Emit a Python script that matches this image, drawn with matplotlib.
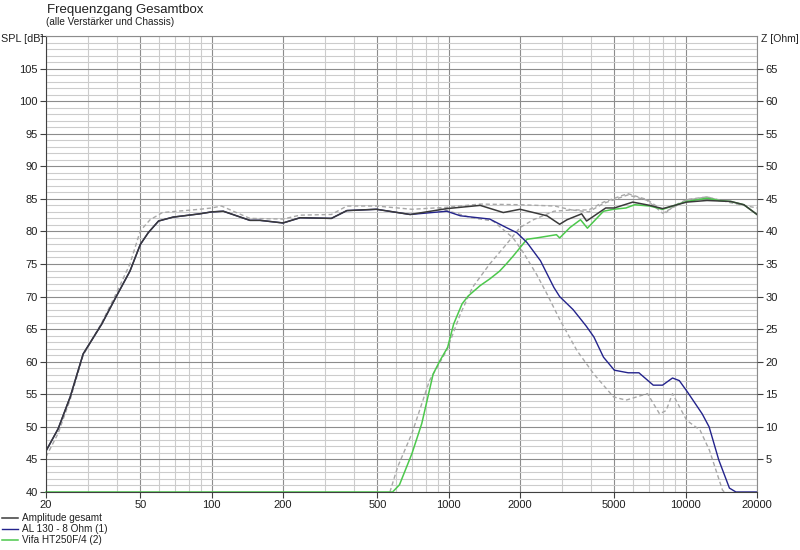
import matplotlib
matplotlib.use("Agg")
import matplotlib.pyplot as plt
from matplotlib.ticker import FixedLocator, NullFormatter, MultipleLocator

plt.rcParams['font.family'] = ['Liberation Sans', 'DejaVu Sans']

# ---- data ----
total_f = [20, 22.5, 25.3, 28.7, 34.4, 39.7, 45.2, 50, 54, 59.7, 68.8, 89, 100, 112, 145, 160,
           200, 236, 320, 372, 496, 688, 982, 1358, 1700, 2000, 2600, 2940, 3160, 3640, 3820,
           4600, 5000, 5980, 7050, 8000, 10100, 12300, 15500, 17600, 20000]
total_db = [46.3, 49.7, 54.6, 61.2, 65.8, 70.1, 73.9, 78.0, 79.8, 81.6, 82.2, 82.7, 83.0, 83.1, 81.7, 81.7,
            81.3, 82.1, 82.0, 83.2, 83.4, 82.6, 83.5, 84.0, 82.9, 83.4, 82.4, 81.1, 81.8, 82.7, 81.6,
            83.6, 83.6, 84.5, 84.0, 83.5, 84.5, 84.75, 84.6, 84.1, 82.6]

woofer_f = [20, 22.5, 25.3, 28.7, 34.4, 39.7, 45.2, 50, 54, 59.7, 68.8, 89, 100, 112, 145, 160,
            200, 236, 320, 372, 496, 688, 982, 1120, 1490, 1750, 1940, 2140, 2440, 2780, 2940,
            3350, 3800, 4100, 4500, 5000, 5720, 6350, 7300, 7990, 8800, 9400, 10200, 11740,
            12560, 13800, 15300, 16300, 20000]
woofer_db = [46.3, 49.7, 54.6, 61.2, 65.8, 70.1, 73.9, 78.0, 79.8, 81.6, 82.2, 82.7, 83.0, 83.1, 81.7, 81.7,
             81.3, 82.1, 82.0, 83.2, 83.4, 82.6, 83.1, 82.4, 81.9, 80.6, 79.8, 78.3, 75.5, 71.4, 70.0,
             68.0, 65.5, 63.8, 60.7, 58.7, 58.3, 58.3, 56.4, 56.4, 57.5, 57.1, 55.3, 52.0,
             50.0, 44.9, 40.6, 40.0, 40.0]

tweeter_f = [20, 580, 620, 700, 770, 860, 920, 990, 1050, 1140, 1210, 1360, 1490, 1640, 1750,
             1870, 2000, 2140, 2350, 2850, 2940, 3250, 3600, 3850, 4500, 4960, 5600, 6100, 7050,
             8000, 10100, 12300, 13800, 15500, 17600, 20000]
tweeter_db = [40, 40, 41.1, 45.9, 50.5, 58.1, 60.2, 62.2, 65.8, 68.9, 70.1, 71.7, 72.7, 73.9, 75.0,
              76.2, 77.5, 78.8, 79.0, 79.5, 79.0, 80.6, 81.8, 80.5, 83.1, 83.4, 83.6, 84.1, 83.9,
              83.4, 84.6, 85.1, 84.75, 84.6, 84.1, 82.6]

target_total_f = [20, 22.5, 25.3, 28.7, 34.4, 39.7, 45.2, 50, 55, 62, 89, 100, 110, 145, 200, 236,
                  320, 372, 496, 700, 980, 1358, 2000, 2800, 3300, 3900, 4500, 5290, 5700, 6850,
                  8270, 9000, 10100, 12300, 15500, 20000]
target_total_db = [45.4, 49.0, 54.2, 61.0, 66.0, 70.6, 75.0, 80.1, 81.8, 82.9, 83.4, 83.6, 83.9, 82.0, 81.9, 82.5,
                   82.6, 83.9, 83.9, 83.4, 83.7, 84.2, 84.1, 83.9, 83.3, 83.3, 84.5, 85.4, 85.8, 84.9,
                   82.9, 84.0, 84.9, 85.3, 84.4, 83.6]

target_woofer_f = [900, 1250, 1540, 1870, 2070, 2350, 2600, 2940, 3480, 4100, 4960, 5600, 6900,
                   7760, 8270, 8800, 10100, 11500, 12600, 14300, 15000]
target_woofer_db = [83.6, 82.1, 81.6, 79.0, 76.7, 73.4, 70.4, 66.5, 61.7, 58.1, 54.6, 54.1, 55.1,
                    52.0, 52.5, 55.1, 51.0, 49.5, 46.4, 40.3, 39.5]

target_tweeter_f = [565, 610, 700, 830, 980, 1120, 1260, 1490, 1750, 2000, 2280, 2780, 3300, 3900,
                    4500, 5700, 6850, 8000, 10100, 12300, 13800]
target_tweeter_db = [40.0, 43.9, 49.0, 57.1, 61.7, 67.3, 71.4, 75.0, 78.0, 80.6, 81.8, 83.1, 83.3, 83.0,
                     84.3, 85.6, 84.8, 82.8, 84.8, 85.3, 84.8]

x_ticks = [20, 50, 100, 200, 500, 1000, 2000, 5000, 10000, 20000]
x_tick_labels = ['20', '50', '100', '200', '500', '1000', '2000', '5000', '10000', '20000']
spl_ticks = [40, 45, 50, 55, 60, 65, 70, 75, 80, 85, 90, 95, 100, 105]
z_ticks = [5, 10, 15, 20, 25, 30, 35, 40, 45, 50, 55, 60, 65]

labels = ['Amplitude gesamt', 'AL 130 - 8 Ohm (1)', 'Vifa HT250F/4 (2)']

# ---- figure ----
fig = plt.figure(figsize=(8, 5.5), dpi=100)
ax = fig.add_axes([46/800, 1-492/550, (757-46)/800, (492-36)/550])

ax.set_xscale('log')
ax.set_xlim(20, 20000)
ax.set_ylim(40, 110)

minor_x = []
for dec in [10, 100, 1000, 10000]:
    for m in range(1, 10):
        v = dec * m
        if 20 <= v <= 20000 and v not in x_ticks:
            minor_x.append(v)
ax.xaxis.set_major_locator(FixedLocator(x_ticks))
ax.set_xticklabels(x_tick_labels)
ax.xaxis.set_minor_locator(FixedLocator(minor_x))
ax.xaxis.set_minor_formatter(NullFormatter())
ax.yaxis.set_major_locator(FixedLocator(spl_ticks + [110]))
ax.set_yticklabels([str(t) for t in spl_ticks] + [''])
ax.yaxis.set_minor_locator(MultipleLocator(1))

ax.grid(True, which='minor', color='#cccccc', lw=0.8)
ax.grid(True, which='major', color='#8c8c8c', lw=0.8)
ax.set_axisbelow(True)
ax.tick_params(which='minor', length=0)
ax.tick_params(which='major', direction='out', length=4, width=0.8, color='#404040',
               labelsize=8, labelcolor='#202020', pad=2)
for s in ax.spines.values():
    s.set_color('#8c8c8c')
    s.set_linewidth(0.8)
ax.spines['left'].set_color('#404040')
ax.spines['bottom'].set_color('#404040')

dash = dict(color='#a8a8a8', lw=1.0, ls=(0, (3, 2)))
ax.plot(target_tweeter_f, target_tweeter_db, **dash)
ax.plot(target_woofer_f, target_woofer_db, **dash)
ax.plot(target_total_f, target_total_db, **dash)

l_tw, = ax.plot(tweeter_f, tweeter_db, color='#4cc84c', lw=1.1, label=labels[2], clip_on=False)
l_wf, = ax.plot(woofer_f, woofer_db, color='#23238c', lw=1.0, label=labels[1])
l_tot, = ax.plot(total_f, total_db, color='#3a3a3a', lw=1.1, label=labels[0])

ax2 = ax.twinx()
ax2.set_ylim(0, 70)
ax2.yaxis.set_major_locator(FixedLocator(z_ticks))
ax2.set_yticklabels([str(t) for t in z_ticks])
ax2.tick_params(direction='out', length=4, width=0.8, color='#404040',
                labelsize=8, labelcolor='#202020', pad=2)
for s in ax2.spines.values():
    s.set_visible(False)

fig.text(47/800, 1-10/550, 'Frequenzgang Gesamtbox', fontsize=9.5, color='#202020',
         ha='left', va='center')
fig.text(46/800, 1-22/550, '(alle Verstärker und Chassis)', fontsize=7.2, color='#202020',
         ha='left', va='center')
fig.text(1/800, 1-39/550, 'SPL [dB]', fontsize=7.8, color='#202020', ha='left', va='center')
fig.text(799/800, 1-39/550, 'Z [Ohm]', fontsize=7.5, color='#202020', ha='right', va='center')

fig.legend(handles=[l_tot, l_wf, l_tw], labels=labels, loc='upper left',
           bbox_to_anchor=(0.0, 1-511/550), frameon=False, fontsize=7.2,
           handlelength=1.6, handletextpad=0.4, labelspacing=0.12, borderaxespad=0,
           borderpad=0.2, labelcolor='#202020')

fig.savefig('out.png', dpi=100)
